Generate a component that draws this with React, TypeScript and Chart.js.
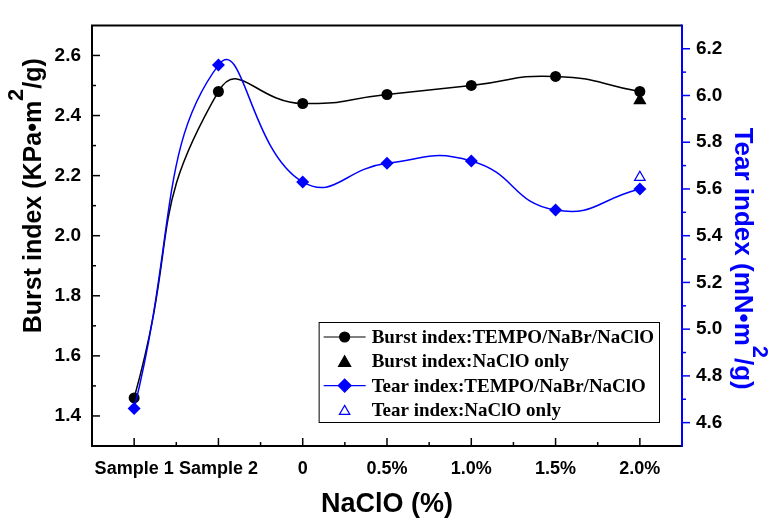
import React, { useEffect, useRef } from "react";
import { Chart, registerables } from "chart.js";

Chart.register(...registerables);

// ---------- data ----------
const categories = ["Sample 1", "Sample 2", "0", "0.5%", "1.0%", "1.5%", "2.0%"];
const burstTempo = [1.46, 2.48, 2.44, 2.47, 2.5, 2.53, 2.48];
const burstNaClOOnly = [null, null, null, null, null, null, 2.45];
const tearTempo = [4.66, 6.13, 5.63, 5.71, 5.72, 5.51, 5.6];
const tearNaClOOnly = [null, null, null, null, null, null, 5.65];
const burstTicks = [1.4, 1.6, 1.8, 2.0, 2.2, 2.4, 2.6];
const tearTicks = [4.6, 4.8, 5.0, 5.2, 5.4, 5.6, 5.8, 6.0, 6.2];
const burstRange = [1.3, 2.7];
const tearRange = [4.5, 6.3];
const legendLabels = [
  "Burst index:TEMPO/NaBr/NaClO",
  "Burst index:NaClO only",
  "Tear index:TEMPO/NaBr/NaClO",
  "Tear index:NaClO only",
];

const SANS = "'Liberation Sans', Arial, sans-serif";
const SERIF = "'Liberation Serif', 'Times New Roman', serif";
const BLUE = "#0000FF";

function marker(ctx: CanvasRenderingContext2D, style: string, x: number, y: number, r: number, fill: string, stroke: string, lw: number) {
  ctx.save();
  ctx.beginPath();
  if (style === "circle") {
    ctx.arc(x, y, r, 0, Math.PI * 2);
  } else if (style === "rectRot") {
    ctx.moveTo(x - r, y);
    ctx.lineTo(x, y - r);
    ctx.lineTo(x + r, y);
    ctx.lineTo(x, y + r);
    ctx.closePath();
  } else if (style === "triangle") {
    for (let k = 0; k < 3; k++) {
      const a = -Math.PI / 2 + (k * 2 * Math.PI) / 3;
      const px = x + Math.cos(a) * r;
      const py = y + Math.sin(a) * r;
      if (k === 0) ctx.moveTo(px, py);
      else ctx.lineTo(px, py);
    }
    ctx.closePath();
  }
  ctx.fillStyle = fill;
  ctx.fill();
  ctx.lineWidth = lw;
  ctx.strokeStyle = stroke;
  ctx.stroke();
  ctx.restore();
}

function drawRotTitle(
  ctx: CanvasRenderingContext2D,
  cx: number,
  cy: number,
  rot: number,
  parts: { text: string; size: number; dy: number }[],
  color: string
) {
  ctx.save();
  ctx.translate(cx, cy);
  ctx.rotate(rot);
  ctx.fillStyle = color;
  ctx.textBaseline = "alphabetic";
  ctx.textAlign = "left";
  let total = 0;
  const widths = parts.map((p) => {
    ctx.font = `bold ${p.size}px ${SANS}`;
    const w = ctx.measureText(p.text).width;
    total += w;
    return w;
  });
  let x = -total / 2;
  parts.forEach((p, i) => {
    ctx.font = `bold ${p.size}px ${SANS}`;
    ctx.fillText(p.text, x, p.dy);
    x += widths[i];
  });
  ctx.restore();
}

const decorPlugin = {
  id: "decor",
  afterDraw(chart: any) {
    const ctx: CanvasRenderingContext2D = chart.ctx;
    const { left, right, top, bottom } = chart.chartArea;
    const xs = chart.scales.x;
    const ys = chart.scales.y;
    const y2 = chart.scales.y2;
    ctx.save();

    // frame
    ctx.lineWidth = 2;
    ctx.strokeStyle = "#000";
    ctx.beginPath();
    ctx.moveTo(right, top);
    ctx.lineTo(left, top);
    ctx.lineTo(left, bottom);
    ctx.lineTo(right, bottom);
    ctx.stroke();
    ctx.strokeStyle = BLUE;
    ctx.beginPath();
    ctx.moveTo(right, top - 1);
    ctx.lineTo(right, bottom + 1);
    ctx.stroke();

    // left ticks (inward)
    ctx.lineWidth = 1.5;
    ctx.strokeStyle = "#000";
    burstTicks.forEach((v, i) => {
      const py = ys.getPixelForValue(v);
      ctx.beginPath();
      ctx.moveTo(left, py);
      ctx.lineTo(left + 8, py);
      ctx.stroke();
      if (i < burstTicks.length - 1) {
        const pm = ys.getPixelForValue((v + burstTicks[i + 1]) / 2);
        ctx.beginPath();
        ctx.moveTo(left, pm);
        ctx.lineTo(left + 4, pm);
        ctx.stroke();
      }
    });
    // right ticks (outward, blue)
    ctx.strokeStyle = BLUE;
    tearTicks.forEach((v, i) => {
      const py = y2.getPixelForValue(v);
      ctx.beginPath();
      ctx.moveTo(right, py);
      ctx.lineTo(right + 8, py);
      ctx.stroke();
      if (i < tearTicks.length - 1) {
        const pm = y2.getPixelForValue((v + tearTicks[i + 1]) / 2);
        ctx.beginPath();
        ctx.moveTo(right, pm);
        ctx.lineTo(right + 4, pm);
        ctx.stroke();
      }
    });
    // bottom ticks (inward)
    ctx.strokeStyle = "#000";
    categories.forEach((_, i) => {
      const px = xs.getPixelForValue(i);
      ctx.beginPath();
      ctx.moveTo(px, bottom);
      ctx.lineTo(px, bottom - 8);
      ctx.stroke();
      if (i < categories.length - 1) {
        const pm = (px + xs.getPixelForValue(i + 1)) / 2;
        ctx.beginPath();
        ctx.moveTo(pm, bottom);
        ctx.lineTo(pm, bottom - 4);
        ctx.stroke();
      }
    });

    // axis titles
    const midY = (top + bottom) / 2;
    drawRotTitle(
      ctx,
      41,
      midY - 40,
      -Math.PI / 2,
      [
        { text: "Burst index (KPa•m", size: 25, dy: 0 },
        { text: "2", size: 22, dy: -18 },
        { text: "/g)", size: 25, dy: 0 },
      ],
      "#000"
    );
    drawRotTitle(
      ctx,
      right + 53,
      midY + 23,
      Math.PI / 2,
      [
        { text: "Tear index (mN•m", size: 26, dy: 0 },
        { text: "2", size: 22, dy: -18 },
        { text: "/g)", size: 26, dy: 0 },
      ],
      BLUE
    );

    // legend
    ctx.font = `bold 19px ${SERIF}`;
    let maxW = 0;
    legendLabels.forEach((t) => {
      maxW = Math.max(maxW, ctx.measureText(t).width);
    });
    const boxW = 53 + maxW + 5;
    const boxH = 100;
    const bx = right - 23 - boxW;
    const by = bottom - 24 - boxH;
    ctx.fillStyle = "#fff";
    ctx.fillRect(bx, by, boxW, boxH);
    ctx.lineWidth = 1;
    ctx.strokeStyle = "#000";
    ctx.strokeRect(bx + 0.5, by + 0.5, boxW, boxH);
    const items = [
      { line: "#000", style: "circle", r: 5, fill: "#000", stroke: "#000" },
      { line: null, style: "triangle", r: 7, fill: "#000", stroke: "#000" },
      { line: BLUE, style: "rectRot", r: 6.5, fill: BLUE, stroke: BLUE },
      { line: null, style: "triangle", r: 6, fill: "#fff", stroke: BLUE },
    ];
    items.forEach((it, i) => {
      const ry = by + 15 + i * 24.3;
      if (it.line) {
        ctx.strokeStyle = it.line;
        ctx.lineWidth = 1.2;
        ctx.beginPath();
        ctx.moveTo(bx + 5, ry);
        ctx.lineTo(bx + 47, ry);
        ctx.stroke();
      }
      marker(ctx, it.style, bx + 26, ry + (it.style === "triangle" ? 1.5 : 0), it.r, it.fill, it.stroke, 1.2);
      ctx.fillStyle = "#000";
      ctx.font = `bold 19px ${SERIF}`;
      ctx.textBaseline = "middle";
      ctx.textAlign = "left";
      ctx.fillText(legendLabels[i], bx + 53, ry + 1);
    });
    ctx.restore();
  },
};

export default function App() {
  const ref = useRef<HTMLCanvasElement | null>(null);
  useEffect(() => {
    if (!ref.current) return;
    const chart = new Chart(ref.current, {
      type: "line",
      data: {
        labels: categories,
        datasets: [
          {
            label: legendLabels[0],
            data: burstTempo,
            yAxisID: "y",
            borderColor: "#000",
            backgroundColor: "#000",
            borderWidth: 1.5,
            pointStyle: "circle",
            pointRadius: 5.5,
            pointBorderWidth: 0,
            pointBackgroundColor: "#000",
            tension: 0.55,
            order: 2,
          },
          {
            label: legendLabels[1],
            data: burstNaClOOnly,
            yAxisID: "y",
            showLine: false,
            pointStyle: "triangle",
            pointRadius: 7.7,
            pointBorderWidth: 0,
            pointBackgroundColor: "#000",
            borderColor: "#000",
            order: 3,
          },
          {
            label: legendLabels[2],
            data: tearTempo,
            yAxisID: "y2",
            borderColor: BLUE,
            backgroundColor: BLUE,
            borderWidth: 1.5,
            pointStyle: "rectRot",
            pointRadius: 6.5,
            pointBorderWidth: 0,
            pointBackgroundColor: BLUE,
            tension: 0.5,
            order: 0,
          },
          {
            label: legendLabels[3],
            data: tearNaClOOnly,
            yAxisID: "y2",
            showLine: false,
            pointStyle: "triangle",
            pointRadius: 6,
            pointBorderWidth: 1.3,
            pointBackgroundColor: "#fff",
            pointBorderColor: BLUE,
            borderColor: BLUE,
            order: 1,
          },
        ] as any,
      },
      options: {
        animation: false,
        responsive: true,
        maintainAspectRatio: false,
        layout: { padding: { top: 14, left: 0, right: 0, bottom: 0 } },
        plugins: {
          legend: { display: false },
          tooltip: { enabled: false },
        },
        scales: {
          x: {
            type: "category",
            offset: true,
            grid: { display: false, drawTicks: false },
            border: { display: false },
            ticks: {
              color: "#000",
              font: { family: SANS, size: 18, weight: "bold" },
              padding: 12,
              autoSkip: false,
              maxRotation: 0,
            },
            title: {
              display: true,
              text: "NaClO (%)",
              color: "#000",
              font: { family: SANS, size: 27, weight: "bold", lineHeight: 1 },
              padding: { top: 0, bottom: 0 },
            },
            afterFit: (s: any) => {
              s.height = 72;
            },
          },
          y: {
            type: "linear",
            position: "left",
            min: burstRange[0],
            max: burstRange[1],
            grid: { display: false, drawTicks: false },
            border: { display: false },
            ticks: {
              color: "#000",
              font: { family: SANS, size: 19, weight: "bold" },
              padding: 11,
              callback: (v: any) => Number(v).toFixed(1),
            },
            afterBuildTicks: (s: any) => {
              s.ticks = burstTicks.map((v) => ({ value: v }));
            },
            afterFit: (s: any) => {
              s.width = 92;
            },
          },
          y2: {
            type: "linear",
            position: "right",
            min: tearRange[0],
            max: tearRange[1],
            grid: { display: false, drawTicks: false },
            border: { display: false },
            ticks: {
              color: "#000",
              font: { family: SANS, size: 19, weight: "bold" },
              padding: 14,
              callback: (v: any) => Number(v).toFixed(1),
            },
            afterBuildTicks: (s: any) => {
              s.ticks = tearTicks.map((v) => ({ value: v }));
            },
            afterFit: (s: any) => {
              s.width = 89;
            },
          },
        },
      } as any,
      plugins: [decorPlugin],
    });
    return () => chart.destroy();
  }, []);
  return (
    <div style={{ position: "absolute", left: 0, top: 0, width: 771, height: 518 }}>
      <canvas ref={ref} />
    </div>
  );
}
